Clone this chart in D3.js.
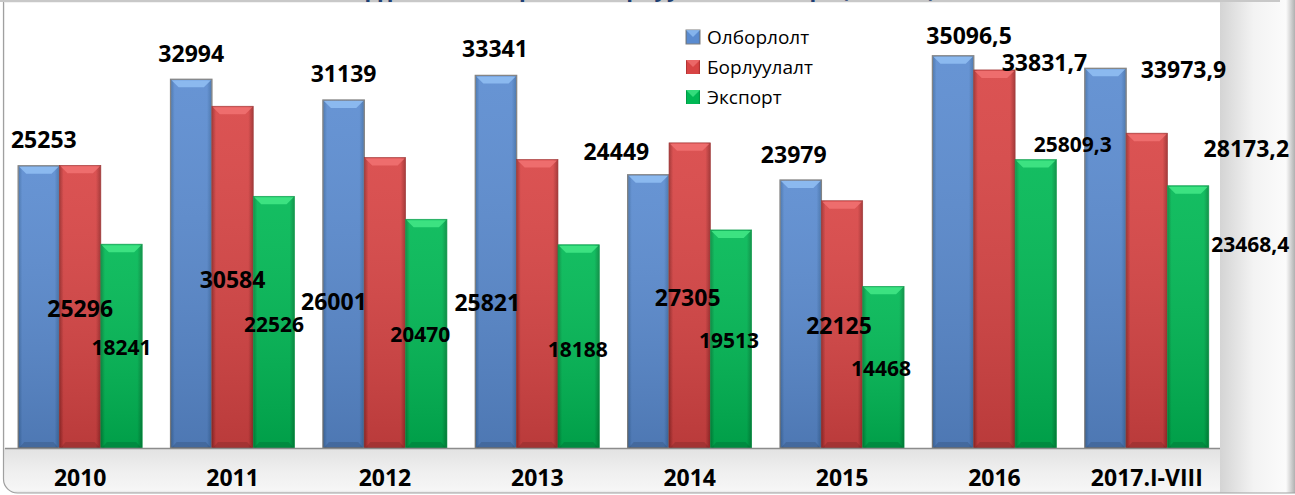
<html>
<head>
<meta charset="utf-8">
<script src="https://cdnjs.cloudflare.com/ajax/libs/d3/7.8.5/d3.min.js"></script>
<style>
  body { margin: 0; background: #fff; }
  svg { display: block; }
</style>
</head>
<body>
<script>
// --- data ---
var categories = ["2010", "2011", "2012", "2013", "2014", "2015", "2016", "2017.I-VIII"];
var seriesNames = ["Олборлолт", "Борлуулалт", "Экспорт"];
var olborlolt  = [25253, 32994, 31139, 33341, 24449, 23979, 35096.5, 33973.9];
var borluulalt = [25296, 30584, 26001, 25821, 27305, 22125, 33831.7, 28173.2];
var eksport    = [18241, 22526, 20470, 18188, 19513, 14468, 25809.3, 23468.4];
var seriesValues = [olborlolt, borluulalt, eksport];
var titleText = "Нүүрсний олборлолт, борлуулалт, экспорт (мян.тн)";

// label nudges (dx from bar centre, dy from bar top) - the labels were dragged around in the original
var labelNudge = [
  [[5,-18],[0,-17.5],[0,-18],[-1,-18],[-32,-15],[-7,-17],[16,-12],[78,9.5]],
  [[0,151.5],[0,181.5],[-51,153],[-50,152],[-2,163],[-3,133],[50,1],[99.5,23.5]],
  [[0,110.7],[0,135.5],[-6,122.6],[-1,112],[-2,118],[-2.5,89.6],[37,-8],[62,66]]
];

var W = 1295, H = 495;
var plot = {left: 5, top: 3, right: 1220, bottom: 448};

var svg = d3.select("body").append("svg")
    .attr("width", W)
    .attr("height", H);

var defs = svg.append("defs");

// colours per series
var pal = [
  {edge: "#3f6ea8", base: "#5a8bd0", bevel: "#8fbdf2", stroke: "#7f7f7f"},
  {edge: "#9e2a2a", base: "#d84444", bevel: "#f07070", stroke: "#9a3030"},
  {edge: "#008a3c", base: "#00b854", bevel: "#40e585", stroke: "#0a9a48"}
];

pal.forEach(function(p, i) {
  var g = defs.append("linearGradient").attr("id", "hg" + i)
      .attr("x1", 0).attr("x2", 1).attr("y1", 0).attr("y2", 0);
  g.append("stop").attr("offset", "0%").attr("stop-color", p.edge);
  g.append("stop").attr("offset", "10%").attr("stop-color", p.base);
  g.append("stop").attr("offset", "88%").attr("stop-color", p.base);
  g.append("stop").attr("offset", "100%").attr("stop-color", p.edge);

  var v = defs.append("linearGradient").attr("id", "vg" + i)
      .attr("x1", 0).attr("x2", 0).attr("y1", 0).attr("y2", 1);
  v.append("stop").attr("offset", "0%").attr("stop-color", "#fff").attr("stop-opacity", 0.08);
  v.append("stop").attr("offset", "100%").attr("stop-color", "#000").attr("stop-opacity", 0.14);
});

// frame backgrounds
var rg = defs.append("linearGradient").attr("id", "rightShade")
    .attr("x1", 0).attr("x2", 1).attr("y1", 0).attr("y2", 0);
rg.append("stop").attr("offset", "0%").attr("stop-color", "#d4d4d4");
rg.append("stop").attr("offset", "45%").attr("stop-color", "#f3f3f3");
rg.append("stop").attr("offset", "88%").attr("stop-color", "#fbfbfb");
rg.append("stop").attr("offset", "100%").attr("stop-color", "#b0b0b0");

var bg = defs.append("linearGradient").attr("id", "bottomShade")
    .attr("x1", 0).attr("x2", 0).attr("y1", 0).attr("y2", 1);
bg.append("stop").attr("offset", "0%").attr("stop-color", "#e2e2e2");
bg.append("stop").attr("offset", "50%").attr("stop-color", "#efefef");
bg.append("stop").attr("offset", "90%").attr("stop-color", "#f6f6f6");
bg.append("stop").attr("offset", "100%").attr("stop-color", "#d0d0d0");

var clip = defs.append("clipPath").attr("id", "frameClip");
clip.append("rect").attr("x", 3).attr("y", -20).attr("width", W + 20).attr("height", H + 18).attr("rx", 14);

var frame = svg.append("g").attr("clip-path", "url(#frameClip)");
frame.append("rect").attr("x", 0).attr("y", 0).attr("width", W).attr("height", H).attr("fill", "#f2f2f2");
frame.append("rect").attr("x", 0).attr("y", plot.bottom).attr("width", W).attr("height", H - plot.bottom)
    .attr("fill", "url(#bottomShade)");
frame.append("rect").attr("x", plot.right).attr("y", 0).attr("width", W - plot.right).attr("height", H)
    .attr("fill", "url(#rightShade)");
svg.append("rect").attr("x", 3.5).attr("y", -20).attr("width", W + 20).attr("height", H + 18).attr("rx", 14)
    .attr("fill", "none").attr("stroke", "#a0a0a0").attr("stroke-width", 1.2);

// white plot area
svg.append("rect")
    .attr("x", plot.left).attr("y", plot.top)
    .attr("width", plot.right - plot.left).attr("height", plot.bottom - plot.top)
    .attr("fill", "#fff");
svg.append("line").attr("x1", 0).attr("x2", plot.right + 60).attr("y1", 1).attr("y2", 1)
    .attr("stroke", "#c8c8c8").attr("stroke-width", 2);

// title, mostly cut off at the top edge (as in the original)
svg.append("text")
    .attr("x", 640).attr("y", -3)
    .attr("text-anchor", "middle")
    .attr("font-family", "Open Sans")
    .attr("font-weight", "bold")
    .attr("font-size", 22)
    .attr("fill", "#1f3f73")
    .text(titleText);

// scales
var x0 = d3.scaleBand().domain(categories).range([4, 1223]).paddingInner(0.186).paddingOuter(0.093);
var x1 = d3.scaleBand().domain(d3.range(seriesNames.length)).range([0, x0.bandwidth()]);
var y = d3.scaleLinear().domain([0, 40000]).range([plot.bottom, 1]);

var bars = [];
categories.forEach(function(c, gi) {
  seriesValues.forEach(function(vals, si) {
    bars.push({cat: c, gi: gi, si: si, value: vals[gi]});
  });
});

var barG = svg.append("g").selectAll("g.bar")
  .data(bars)
  .enter().append("g").attr("class", "bar");

var bw = x1.bandwidth();
barG.append("rect")
    .attr("x", function(d) { return x0(d.cat) + x1(d.si); })
    .attr("y", function(d) { return y(d.value); })
    .attr("width", bw)
    .attr("height", function(d) { return plot.bottom - y(d.value); })
    .attr("fill", function(d) { return "url(#hg" + d.si + ")"; })
    .attr("stroke", function(d) { return pal[d.si].stroke; })
    .attr("stroke-width", function(d) { return d.si == 0 ? 1.3 : 0.6; });

barG.append("rect")
    .attr("x", function(d) { return x0(d.cat) + x1(d.si); })
    .attr("y", function(d) { return y(d.value); })
    .attr("width", bw)
    .attr("height", function(d) { return plot.bottom - y(d.value); })
    .attr("fill", function(d) { return "url(#vg" + d.si + ")"; });

// top bevel
barG.append("path")
    .attr("d", function(d) {
      var bx = x0(d.cat) + x1(d.si), by = y(d.value), bev = 8;
      return "M " + (bx + 1) + " " + (by + 1) + " L " + (bx + bw - 1) + " " + (by + 1) +
             " L " + (bx + bw - bev) + " " + (by + bev) + " L " + (bx + bev) + " " + (by + bev) + " Z";
    })
    .attr("fill", function(d) { return pal[d.si].bevel; })
    .attr("opacity", 0.9);

// bottom bevel
barG.append("path")
    .attr("d", function(d) {
      var bx = x0(d.cat) + x1(d.si), by = plot.bottom, bev = 6;
      return "M " + (bx + 1) + " " + by + " L " + (bx + bw - 1) + " " + by +
             " L " + (bx + bw - bev) + " " + (by - bev) + " L " + (bx + bev) + " " + (by - bev) + " Z";
    })
    .attr("fill", "#000")
    .attr("opacity", 0.12);

// baseline
svg.append("line")
    .attr("x1", plot.left).attr("x2", plot.right)
    .attr("y1", plot.bottom + 0.5).attr("y2", plot.bottom + 0.5)
    .attr("stroke", "#8c8c8c").attr("stroke-width", 1.5);

// category axis
var xAxis = d3.axisBottom(x0).tickSize(0).tickPadding(22);
var axG = svg.append("g").attr("transform", "translate(0," + plot.bottom + ")").call(xAxis);
axG.select(".domain").remove();
axG.selectAll("text")
    .attr("font-family", "Open Sans")
    .attr("font-weight", "bold")
    .attr("font-size", 23)
    .attr("fill", "#000");

// value labels
function fmt(v) {
  return (v % 1 !== 0) ? v.toFixed(1).replace(".", ",") : String(v);
}
svg.append("g").selectAll("text")
  .data(bars)
  .enter().append("text")
    .attr("x", function(d) { return x0(d.cat) + x1(d.si) + bw / 2 + labelNudge[d.si][d.gi][0]; })
    .attr("y", function(d) { return y(d.value) + labelNudge[d.si][d.gi][1]; })
    .attr("text-anchor", "middle")
    .attr("font-family", "Open Sans")
    .attr("font-weight", "bold")
    .attr("font-size", function(d) { return d.si == 2 ? 21 : 23; })
    .attr("fill", "#000")
    .text(function(d) { return fmt(d.value); });

// legend
var legend = svg.append("g").attr("transform", "translate(686,37)");
var li = legend.selectAll("g").data(seriesNames).enter().append("g")
    .attr("transform", function(d, i) { return "translate(0," + (i * 30) + ")"; });
li.append("rect")
    .attr("x", 0).attr("y", -7).attr("width", 14).attr("height", 14)
    .attr("fill", function(d, i) { return "url(#hg" + i + ")"; })
    .attr("stroke", function(d, i) { return i == 0 ? "#7f7f7f" : "none"; });
li.append("path")
    .attr("d", "M 0 -7 L 14 -7 L 7 0 Z")
    .attr("fill", function(d, i) { return pal[i].bevel; })
    .attr("opacity", 0.8);
li.append("text")
    .attr("x", 21).attr("y", 7)
    .attr("font-family", "Open Sans")
    .attr("font-size", 19)
    .attr("fill", "#000")
    .text(function(d) { return d; });
</script>
</body>
</html>
